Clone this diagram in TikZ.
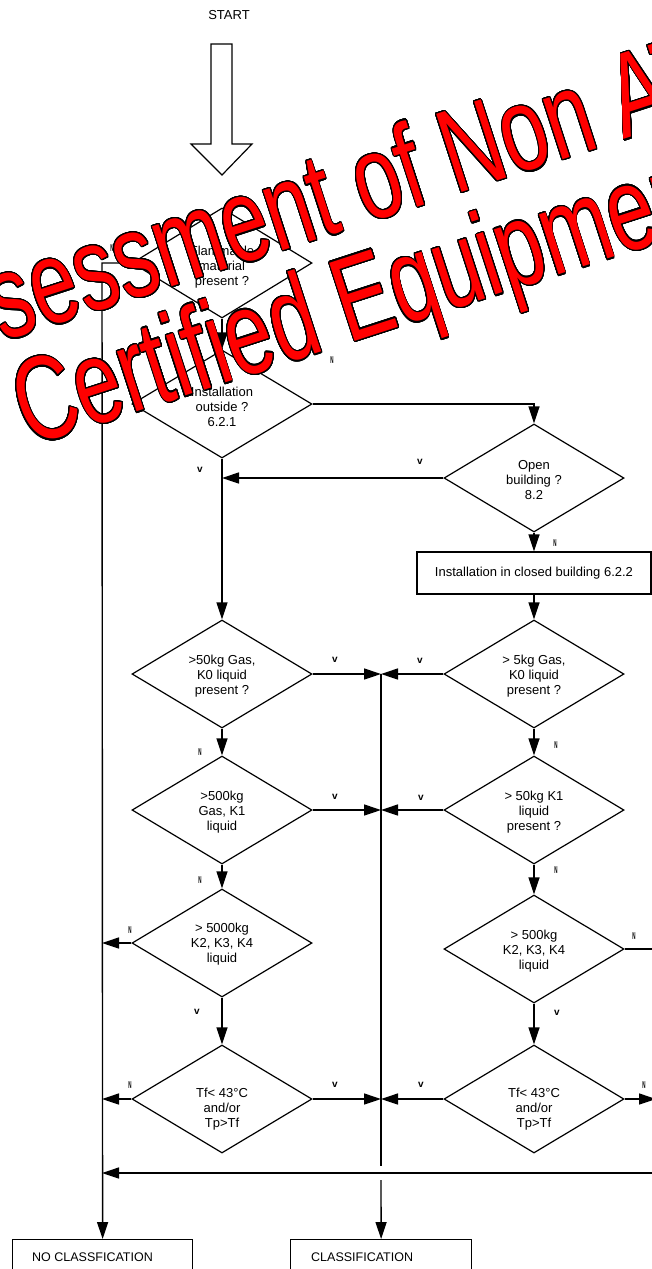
\documentclass[tikz,border=0pt]{standalone}
\usepackage{fontspec}
\setmainfont{Liberation Sans}
\usepackage[copies]{contour}
\contourlength{0.9pt}
\contournumber{32}
\usetikzlibrary{shapes.geometric,arrows.meta}
\begin{document}
\begin{tikzpicture}[x=1pt,y=-1pt,
  ln/.style={line width=1.4pt},
  arr/.style={line width=1.4pt,-{Triangle[length=17pt,width=11pt]}},
  diam/.style={shape=diamond,draw,line width=1.2pt,minimum width=180pt,minimum height=108pt,inner sep=0pt},
  dtext/.style={font=\fontsize{13}{15}\selectfont,align=center,inner sep=0pt},
  boxst/.style={draw,line width=1.2pt,inner sep=0pt},
  yl/.style={font=\fontsize{10}{10}\selectfont\bfseries,inner sep=0pt},
  nl/.style={font=\fontsize{10}{10}\selectfont\bfseries,inner sep=0pt,xscale=0.45},
  wm/.style={font=\fontsize{84}{100}\selectfont,rotate=18,yscale=1.42,anchor=base,inner sep=0pt}]
\useasboundingbox[fill=white] (0,0) rectangle (652,1269);

% START
\node[dtext] (start) at (229,15) {START};
\draw[line width=1.2pt,fill=white] (211,44) -- (232,44) -- (232,144) -- (252,144) -- (222,175) -- (191,144) -- (211,144) -- cycle;

% diamonds left column
\node[diam,minimum height=110pt] (d1) at (222,263) {};
\node[dtext] (t1) at (222,267) {Flammable\\material\\present ?};
\node[diam] (d2) at (222,404) {};
\node[dtext] (t2) at (222,407) {Installation\\outside ?\\6.2.1};
\node[diam] (d3) at (222,674) {};
\node[dtext] (t3) at (222,676) {>50kg Gas,\\K0 liquid\\present ?};
\node[diam] (d4) at (222,810) {};
\node[dtext] (t4) at (222,812) {>500kg\\Gas, K1\\liquid};
\node[diam] (d5) at (222,943) {};
\node[dtext] (t5) at (222,944) {> 5000kg\\K2, K3, K4\\liquid};
\node[diam] (d6) at (222,1099) {};
\node[dtext] (t6) at (222,1109) {Tf< 43°C\\and/or\\Tp>Tf};

% right column
\node[diam] (ob) at (534,478) {};
\node[dtext] (tob) at (534,480) {Open\\building ?\\8.2};
\node[boxst,minimum width=234pt,minimum height=42pt,font=\fontsize{13}{15}\selectfont] (cb) at (534,573) {Installation in closed building 6.2.2};
\node[diam] (r1) at (534,674) {};
\node[dtext] (tr1) at (534,676) {> 5kg Gas,\\K0 liquid\\present ?};
\node[diam] (r2) at (534,810) {};
\node[dtext] (tr2) at (534,812) {> 50kg K1\\liquid\\present ?};
\node[diam] (r3) at (534,949) {};
\node[dtext] (tr3) at (534,951) {> 500kg\\K2, K3, K4\\liquid};
\node[diam] (r4) at (534,1099) {};
\node[dtext] (tr4) at (534,1109) {Tf< 43°C\\and/or\\Tp>Tf};

% result boxes
\node[boxst,anchor=north west,minimum width=180pt,minimum height=50pt] (nocls) at (12,1239) {};
\node[font=\fontsize{12.5}{15}\selectfont,anchor=base west,inner sep=0pt] (tnocls) at (32,1261) {NO CLASSFICATION};
\node[boxst,anchor=north west,minimum width=181pt,minimum height=50pt] (cls) at (290,1239) {};
\node[font=\fontsize{12.5}{15}\selectfont,anchor=base west,inner sep=0pt] (tcls) at (311,1261) {CLASSIFICATION};

% coordinates
\coordinate (lt) at (102,263);
\coordinate (jtop) at (534,404);
\coordinate (jo) at (222,478);
\coordinate (j3) at (381,674);
\coordinate (j4) at (381,810);
\coordinate (j6) at (381,1099);
\coordinate (jend) at (381,1166);
\coordinate (jcs) at (381,1180);
\coordinate (l5) at (102,943);
\coordinate (l6) at (102,1099);
\coordinate (rx3) at (662,949);
\coordinate (rr) at (662,1173);
\coordinate (hl) at (102,1173);
\coordinate (r4e) at (656,1099);

% connectors
\draw[arr] (d1.south) -- (d2.north);
\draw[arr] (d1.west) -- (lt) -- (nocls.north);
\draw[arr] (d2.east) -- (jtop) -- (ob.north);
\draw[arr] (ob.west) -- (jo);
\draw[arr] (d2.south) -- (d3.north);
\draw[arr] (ob.south) -- (cb.north);
\draw[arr] (cb.south) -- (r1.north);
\draw[arr] (d3.east) -- (j3);
\draw[arr] (r1.west) -- (j3);
\draw[arr] (d4.east) -- (j4);
\draw[arr] (r2.west) -- (j4);
\draw[arr] (d6.east) -- (j6);
\draw[arr] (r4.west) -- (j6);
\draw[ln] (j3) -- (jend);
\draw[arr] (jcs) -- (cls.north);
\draw[arr] (d3.south) -- (d4.north);
\draw[arr] (d4.south) -- (d5.north);
\draw[arr] (d5.south) -- (d6.north);
\draw[arr] (d5.west) -- (l5);
\draw[arr] (d6.west) -- (l6);
\draw[arr] (r1.south) -- (r2.north);
\draw[arr] (r2.south) -- (r3.north);
\draw[arr] (r3.south) -- (r4.north);
\draw[ln] (r3.east) -- (rx3) -- (rr);
\draw[arr] (rr) -- (hl);
\draw[arr] (r4.east) -- (r4e);

% Y/N labels
\node[nl] (n1) at (112,248) {N};
\node[nl] (n2) at (332,360) {N};
\node[yl] (y1) at (200,470) {v};
\node[yl] (y2) at (420,462) {v};
\node[nl] (n3) at (555,543) {N};
\node[yl] (y3) at (335,660) {v};
\node[yl] (y4) at (420,661) {v};
\node[nl] (n4) at (200,752) {N};
\node[nl] (n5) at (556,745) {N};
\node[yl] (y5) at (335,797) {v};
\node[yl] (y6) at (421,798) {v};
\node[nl] (n6) at (200,880) {N};
\node[nl] (n7) at (556,870) {N};
\node[nl] (n8) at (130,930) {N};
\node[nl] (n9) at (634,936) {N};
\node[yl] (y7) at (197,1012) {v};
\node[yl] (y8) at (557,1013) {v};
\node[nl] (n10) at (130,1085) {N};
\node[yl] (y9) at (335,1085) {v};
\node[yl] (y10) at (421,1085) {v};
\node[nl] (n11) at (644,1085) {N};

% watermark
\node[wm] (wm1) at (368,223) {\contour{black}{\textcolor{red}{Assessment of Non ATEX}}};
\node[wm] (wm2) at (380,333) {\contour{black}{\textcolor{red}{Certified Equipment}}};
\end{tikzpicture}
\end{document}
